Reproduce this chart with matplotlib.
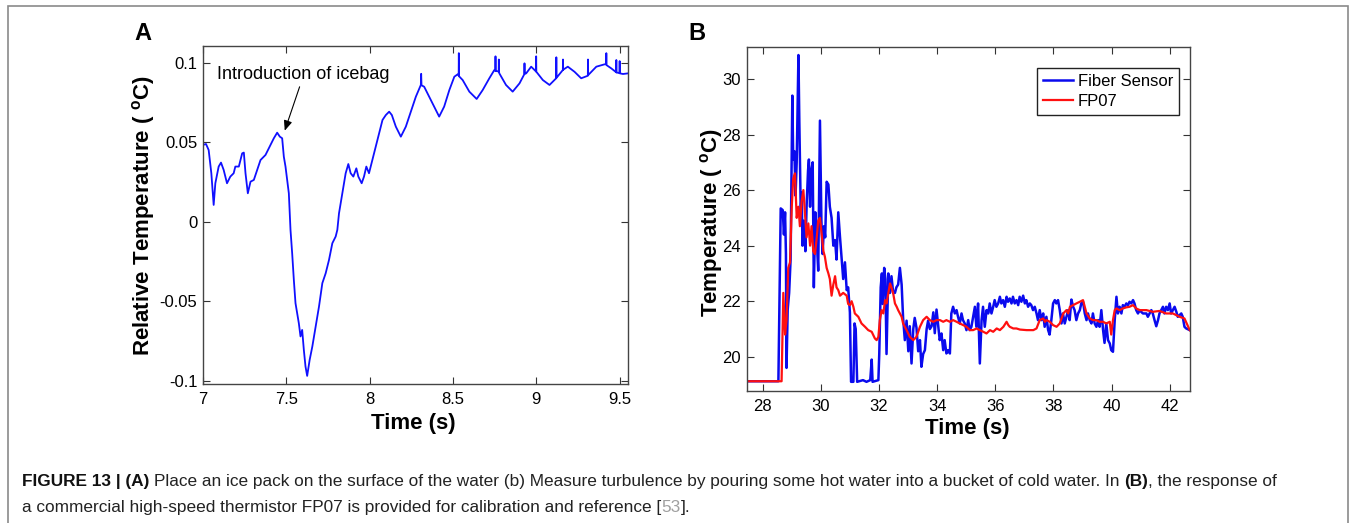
import matplotlib
matplotlib.use('Agg')
import matplotlib.pyplot as plt
from matplotlib.patches import Rectangle

plt.rcParams['font.family'] = ['Liberation Sans', 'DejaVu Sans']
plt.rcParams['mathtext.fontset'] = 'custom'
plt.rcParams['mathtext.rm'] = 'Liberation Sans'
plt.rcParams['mathtext.bf'] = 'Liberation Sans:bold'

# ---- panel A: relative temperature after the ice bag ----
time_a = [7.000, 7.018, 7.034, 7.050, 7.064, 7.074, 7.094, 7.108, 7.124, 7.144,
          7.164, 7.184, 7.194, 7.215, 7.235, 7.245, 7.255, 7.269, 7.285, 7.305,
          7.325, 7.345, 7.375, 7.405, 7.425, 7.445, 7.461, 7.475, 7.485, 7.495,
          7.505, 7.515, 7.525, 7.535, 7.545, 7.555, 7.565, 7.575, 7.585, 7.595,
          7.605, 7.615, 7.625, 7.640, 7.656, 7.676, 7.696, 7.716, 7.736, 7.756,
          7.776, 7.796, 7.806, 7.816, 7.836, 7.856, 7.872, 7.886, 7.902, 7.920,
          7.932, 7.952, 7.966, 7.980, 7.996, 8.016, 8.036, 8.057, 8.077, 8.097,
          8.117, 8.133, 8.157, 8.187, 8.217, 8.247, 8.277, 8.307, 8.309, 8.311,
          8.327, 8.357, 8.387, 8.417, 8.447, 8.478, 8.508, 8.528, 8.534, 8.535,
          8.536, 8.558, 8.598, 8.642, 8.678, 8.718, 8.748, 8.754, 8.755, 8.756,
          8.774, 8.775, 8.776, 8.778, 8.818, 8.858, 8.899, 8.928, 8.929, 8.930,
          8.939, 8.969, 8.998, 8.999, 9.000, 9.039, 9.079, 9.119, 9.120, 9.121,
          9.159, 9.160, 9.161, 9.189, 9.229, 9.269, 9.309, 9.310, 9.311, 9.360,
          9.410, 9.419, 9.420, 9.421, 9.450, 9.479, 9.480, 9.481, 9.490, 9.499,
          9.500, 9.501, 9.520, 9.550]
rel_temp_a = [0.0483, 0.0489, 0.0451, 0.0305, 0.0106, 0.0242, 0.0347, 0.0372, 0.0326, 0.0242,
              0.0284, 0.0305, 0.0347, 0.0347, 0.0430, 0.0435, 0.0305, 0.0179, 0.0252, 0.0263,
              0.0326, 0.0388, 0.0420, 0.0483, 0.0525, 0.0560, 0.0535, 0.0525, 0.0409, 0.0347,
              0.0263, 0.0179, -0.0051, -0.0198, -0.0365, -0.0512, -0.0575, -0.0638, -0.0721, -0.0680,
              -0.0805, -0.0910, -0.0969, -0.0868, -0.0784, -0.0659, -0.0533, -0.0386, -0.0324, -0.0240,
              -0.0135, -0.0093, -0.0051, 0.0053, 0.0179, 0.0305, 0.0363, 0.0305, 0.0284, 0.0336,
              0.0284, 0.0242, 0.0284, 0.0347, 0.0305, 0.0388, 0.0472, 0.0556, 0.0640, 0.0671,
              0.0692, 0.0671, 0.0598, 0.0535, 0.0598, 0.0692, 0.0786, 0.0860, 0.0930, 0.0858,
              0.0849, 0.0786, 0.0724, 0.0661, 0.0724, 0.0828, 0.0912, 0.0927, 0.0920, 0.1060,
              0.0915, 0.0891, 0.0818, 0.0772, 0.0828, 0.0902, 0.0954, 0.0950, 0.1040, 0.0948,
              0.0945, 0.1020, 0.0942, 0.0933, 0.0860, 0.0818, 0.0870, 0.0928, 0.0996, 0.0930,
              0.0933, 0.0975, 0.0945, 0.1040, 0.0943, 0.0891, 0.0860, 0.0902, 0.1034, 0.0905,
              0.0954, 0.1020, 0.0956, 0.0975, 0.0943, 0.0902, 0.0918, 0.1020, 0.0922, 0.0975,
              0.0990, 0.0990, 0.1060, 0.0985, 0.0964, 0.0940, 0.1017, 0.0938, 0.0937, 0.0934,
              0.1010, 0.0933, 0.0929, 0.0933]
icebag_time = 7.485
icebag_temp = 0.0556

# ---- panel B: fiber sensor vs FP07 ----
time_fiber = [27.45, 28.54, 28.62, 28.69, 28.73, 28.77, 28.80, 28.82, 28.86, 28.91,
              28.96, 29.02, 29.05, 29.09, 29.13, 29.17, 29.23, 29.26, 29.31, 29.34,
              29.37, 29.42, 29.47, 29.51, 29.56, 29.59, 29.63, 29.67, 29.72, 29.76,
              29.81, 29.86, 29.91, 29.97, 30.02, 30.06, 30.11, 30.15, 30.20, 30.26,
              30.31, 30.37, 30.43, 30.49, 30.54, 30.60, 30.66, 30.72, 30.77, 30.83,
              30.89, 30.94, 31.00, 31.04, 31.12, 31.16, 31.20, 31.25, 31.45, 31.57,
              31.70, 31.75, 31.78, 31.98, 32.01, 32.06, 32.10, 32.13, 32.18, 32.22,
              32.26, 32.32, 32.38, 32.43, 32.49, 32.55, 32.60, 32.66, 32.72, 32.78,
              32.83, 32.89, 32.95, 33.01, 33.06, 33.12, 33.18, 33.23, 33.29, 33.35,
              33.41, 33.46, 33.52, 33.58, 33.64, 33.69, 33.75, 33.81, 33.87, 33.92,
              33.98, 34.04, 34.09, 34.15, 34.21, 34.26, 34.32, 34.38, 34.44, 34.49,
              34.55, 34.61, 34.67, 34.72, 34.78, 34.84, 34.89, 34.95, 35.01, 35.07,
              35.12, 35.18, 35.24, 35.30, 35.35, 35.41, 35.47, 35.53, 35.58, 35.64,
              35.70, 35.76, 35.81, 35.87, 35.93, 35.98, 36.04, 36.10, 36.16, 36.21,
              36.27, 36.33, 36.39, 36.44, 36.50, 36.56, 36.61, 36.67, 36.73, 36.79,
              36.84, 36.90, 36.96, 37.02, 37.07, 37.13, 37.19, 37.24, 37.30, 37.36,
              37.42, 37.47, 37.53, 37.59, 37.65, 37.70, 37.76, 37.82, 37.87, 37.93,
              37.99, 38.05, 38.10, 38.16, 38.22, 38.28, 38.33, 38.39, 38.45, 38.51,
              38.56, 38.62, 38.68, 38.73, 38.79, 38.85, 38.91, 38.96, 39.02, 39.08,
              39.14, 39.19, 39.25, 39.31, 39.36, 39.42, 39.48, 39.54, 39.59, 39.65,
              39.71, 39.76, 39.82, 39.88, 39.94, 39.99, 40.05, 40.11, 40.17, 40.22,
              40.28, 40.34, 40.39, 40.45, 40.51, 40.57, 40.62, 40.68, 40.74, 40.79,
              40.85, 40.91, 40.97, 41.02, 41.08, 41.14, 41.20, 41.25, 41.31, 41.37,
              41.42, 41.48, 41.54, 41.60, 41.65, 41.71, 41.77, 41.82, 41.88, 41.94,
              42.00, 42.05, 42.11, 42.17, 42.23, 42.28, 42.34, 42.40, 42.45, 42.51,
              42.57, 42.69]
temp_fiber = [19.12, 19.12, 25.34, 25.28, 24.40, 25.20, 23.70, 19.60, 21.70, 22.30,
              23.50, 29.40, 27.10, 27.40, 25.80, 27.00, 30.86, 28.50, 25.20, 25.90,
              24.00, 24.90, 23.80, 25.40, 26.70, 27.10, 25.40, 26.70, 27.00, 22.50,
              25.20, 24.20, 23.10, 28.50, 24.90, 23.70, 24.70, 24.30, 26.30, 26.20,
              25.40, 25.00, 24.00, 24.20, 23.50, 25.20, 24.30, 23.50, 22.80, 23.40,
              22.40, 22.50, 21.60, 19.10, 19.10, 21.20, 21.00, 19.10, 19.16, 19.10,
              19.16, 19.90, 19.10, 19.16, 20.10, 22.50, 23.00, 21.90, 23.20, 22.80,
              20.10, 23.00, 22.30, 22.90, 22.30, 22.30, 22.50, 22.60, 23.20, 22.60,
              21.40, 20.60, 21.30, 20.20, 21.10, 19.76, 21.00, 21.40, 21.05, 20.20,
              20.60, 19.64, 20.10, 20.24, 21.00, 21.30, 21.00, 21.10, 21.60, 20.85,
              21.70, 21.10, 20.60, 20.84, 20.24, 20.60, 20.12, 20.24, 20.12, 21.56,
              21.80, 21.56, 21.68, 21.44, 21.20, 21.56, 21.32, 21.20, 20.96, 21.32,
              20.96, 21.08, 21.44, 21.80, 21.08, 21.92, 19.76, 21.32, 21.80, 21.08,
              21.68, 21.56, 21.92, 21.56, 21.80, 22.04, 21.80, 21.92, 22.16, 21.92,
              22.04, 21.80, 22.16, 21.98, 22.10, 21.92, 22.16, 21.92, 22.04, 21.86,
              22.16, 21.98, 22.20, 21.92, 22.04, 21.80, 21.92, 21.86, 21.68, 21.80,
              21.56, 21.32, 21.68, 21.32, 21.56, 21.08, 21.44, 20.96, 20.80, 21.32,
              21.92, 22.04, 21.92, 22.04, 21.68, 21.20, 21.56, 21.20, 21.44, 21.68,
              21.32, 22.06, 21.80, 21.68, 21.32, 21.56, 21.68, 21.92, 21.98, 21.56,
              21.32, 21.56, 21.32, 21.20, 21.56, 21.20, 21.08, 21.32, 21.08, 21.68,
              20.96, 20.50, 21.20, 20.60, 20.48, 20.24, 20.18, 21.32, 22.16, 21.56,
              21.80, 21.56, 21.86, 21.80, 21.92, 21.86, 21.98, 21.92, 22.04, 21.92,
              21.68, 21.56, 21.68, 21.62, 21.56, 21.56, 21.56, 21.44, 21.56, 21.68,
              21.56, 21.32, 21.10, 21.32, 21.56, 21.68, 21.80, 21.56, 21.80, 21.68,
              21.92, 21.56, 21.68, 21.80, 21.62, 21.44, 21.50, 21.56, 21.44, 21.08,
              21.02, 20.96]

time_fp07 = [27.45, 28.65, 28.71, 28.77, 28.82, 28.88, 28.94, 29.00, 29.05, 29.11,
             29.17, 29.23, 29.28, 29.34, 29.40, 29.45, 29.51, 29.57, 29.63, 29.68,
             29.74, 29.80, 29.86, 29.91, 29.97, 30.03, 30.09, 30.14, 30.20, 30.26,
             30.31, 30.37, 30.43, 30.49, 30.54, 30.60, 30.66, 30.77, 30.89, 30.94,
             31.00, 31.06, 31.12, 31.17, 31.29, 31.40, 31.52, 31.63, 31.75, 31.86,
             31.92, 31.98, 32.03, 32.09, 32.15, 32.21, 32.26, 32.32, 32.38, 32.43,
             32.49, 32.55, 32.61, 32.66, 32.72, 32.78, 32.83, 32.95, 33.06, 33.18,
             33.29, 33.41, 33.52, 33.64, 33.75, 33.87, 33.98, 34.10, 34.21, 34.32,
             34.44, 34.55, 34.67, 34.78, 34.90, 35.01, 35.13, 35.24, 35.36, 35.47,
             35.59, 35.70, 35.82, 35.93, 36.05, 36.16, 36.28, 36.39, 36.45, 36.50,
             36.62, 36.73, 36.85, 37.08, 37.31, 37.42, 37.53, 37.65, 37.71, 37.76,
             37.88, 37.99, 38.11, 38.22, 38.34, 38.45, 38.51, 38.57, 38.68, 38.79,
             38.91, 39.02, 39.08, 39.14, 39.25, 39.37, 39.48, 39.59, 39.71, 39.82,
             39.94, 39.99, 40.05, 40.11, 40.17, 40.28, 40.39, 40.51, 40.62, 40.74,
             40.85, 40.97, 41.20, 41.42, 41.65, 41.88, 42.11, 42.34, 42.51, 42.69]
temp_fp07 = [19.12, 19.12, 22.30, 20.80, 21.30, 23.20, 23.40, 25.40, 26.40, 26.60,
             25.00, 25.40, 24.70, 25.60, 26.00, 25.20, 24.30, 24.80, 24.00, 24.70,
             23.80, 23.70, 24.30, 24.90, 25.00, 24.40, 23.80, 23.60, 23.20, 23.00,
             22.80, 22.20, 22.60, 22.90, 22.50, 22.40, 22.20, 22.30, 22.20, 21.90,
             21.86, 22.00, 21.80, 21.56, 21.44, 21.20, 21.08, 20.96, 20.90, 20.66,
             20.60, 20.72, 21.32, 21.68, 21.56, 22.04, 21.92, 22.28, 22.64, 22.50,
             22.28, 21.92, 21.80, 21.68, 21.56, 21.44, 21.20, 20.96, 20.72, 20.60,
             20.72, 21.08, 21.32, 21.44, 21.32, 21.26, 21.32, 21.32, 21.26, 21.32,
             21.26, 21.32, 21.26, 21.20, 21.14, 21.08, 20.96, 20.96, 21.02, 20.96,
             20.90, 20.84, 20.96, 20.90, 21.02, 20.96, 21.08, 21.26, 21.14, 21.08,
             21.02, 21.02, 20.98, 20.96, 20.96, 21.02, 21.32, 21.38, 21.26, 21.32,
             21.26, 21.14, 21.08, 21.20, 21.56, 21.68, 21.56, 21.80, 21.86, 21.92,
             21.98, 22.04, 21.80, 21.56, 21.38, 21.32, 21.32, 21.26, 21.26, 21.20,
             21.26, 20.80, 21.32, 21.68, 21.74, 21.68, 21.74, 21.78, 21.80, 21.86,
             21.74, 21.68, 21.68, 21.62, 21.65, 21.56, 21.56, 21.44, 21.38, 20.96]

W, H = 1356, 523
fig = plt.figure(figsize=(W / 100, H / 100), dpi=100)
fig.patches.append(Rectangle((8 / W, -0.05), 1340 / W, 1.05 - 6 / H, transform=fig.transFigure,
                             fill=False, edgecolor='#8a8a8a', linewidth=1.2))


def matlab_axes(ax):
    ax.tick_params(direction='in', top=True, right=True, length=5, width=0.8,
                   color='#333333', labelsize=12, labelcolor='black')
    ax.tick_params(axis='x', pad=6)
    ax.tick_params(axis='y', pad=4)
    for sp in ax.spines.values():
        sp.set_color('#444444')
        sp.set_linewidth(1.0)


axA = fig.add_axes([203 / W, 1 - 384 / H, 425 / W, 338 / H])
axA.plot(time_a, rel_temp_a, color='#1010ff', linewidth=1.3)
axA.set_xlim(7, 9.55)
axA.set_ylim(-0.102, 0.1105)
axA.set_xticks([7, 7.5, 8, 8.5, 9, 9.5])
axA.set_xticklabels(['7', '7.5', '8', '8.5', '9', '9.5'])
axA.set_yticks([-0.1, -0.05, 0, 0.05, 0.1])
axA.set_yticklabels(['-0.1', '-0.05', '0', '0.05', '0.1'])
matlab_axes(axA)
axA.set_xlabel('Time (s)', fontsize=16, fontweight='bold')
axA.set_ylabel(r'Relative Temperature ( $^{\mathbf{o}}$C)', fontsize=16, fontweight='bold')
axA.xaxis.set_label_coords(0.494, -0.086)
axA.yaxis.set_label_coords(-0.108, 0.497)
axA.annotate('', xy=(icebag_time, icebag_temp), xytext=(7.585, 0.0865),
             arrowprops=dict(arrowstyle='-|>,head_length=0.6,head_width=0.25', color='black', lw=0.8))
axA.text(7.084, 0.0923, 'Introduction of icebag', fontsize=13, va='center', ha='left')

axB = fig.add_axes([746.7 / W, 1 - 390.7 / H, 443.3 / W, 344 / H])
axB.plot(time_fiber, temp_fiber, color='#0a0aee', linewidth=1.8, label='Fiber Sensor')
axB.plot(time_fp07, temp_fp07, color='#ff1010', linewidth=1.6, label='FP07')
axB.set_xlim(27.45, 42.7)
axB.set_ylim(18.78, 31.16)
axB.set_xticks([28, 30, 32, 34, 36, 38, 40, 42])
axB.set_yticks([20, 22, 24, 26, 28, 30])
matlab_axes(axB)
axB.set_xlabel('Time (s)', fontsize=16, fontweight='bold')
axB.set_ylabel(r'Temperature ( $^{\mathbf{o}}$C)', fontsize=16, fontweight='bold')
axB.xaxis.set_label_coords(0.497, -0.079)
axB.yaxis.set_label_coords(-0.049, 0.49)
leg = axB.legend(loc='upper right', bbox_to_anchor=(0.975, 0.938), borderaxespad=0,
                 fontsize=12, fancybox=False, framealpha=1, edgecolor='#222222',
                 handlelength=1.8, handletextpad=0.3, labelspacing=0.3, borderpad=0.35)
leg.get_frame().set_linewidth(1.0)

fig.text(143 / W, 1 - 34 / H, 'A', fontsize=17, fontweight='bold', ha='center', va='center')
fig.text(697 / W, 1 - 34 / H, 'B', fontsize=17, fontweight='bold', ha='center', va='center')

# caption with mixed weights
renderer = fig.canvas.get_renderer()
cap_size = 12.4


def text_width(s, **kw):
    t = fig.text(0, 0, s, fontsize=cap_size, **kw)
    w = t.get_window_extent(renderer).width
    t.remove()
    return w


space_w = text_width('x x') - text_width('xx')


def caption_line(pieces, x_px, base_px):
    x = x_px
    for s, kw in pieces:
        x += (len(s) - len(s.lstrip(' '))) * space_w
        t = fig.text(x / W, 1 - base_px / H, s.strip(), fontsize=cap_size, va='baseline', **kw)
        x = t.get_window_extent(renderer).x1 + (len(s) - len(s.rstrip(' '))) * space_w


bold = dict(fontweight='bold', color='#111111')
plain = dict(color='#222222')
caption_line([('FIGURE 13 | (A)', bold),
              (' Place an ice pack on the surface of the water (b) Measure turbulence by pouring some hot '
               'water into a bucket of cold water. In ', plain),
              ('(B)', bold), (', the response of', plain)], 22, 486)
caption_line([('a commercial high-speed thermistor FP07 is provided for calibration and reference [', plain),
              ('53', dict(color='#a0a0a0')), ('].', plain)], 22, 512)

fig.savefig('out.png', dpi=100)
